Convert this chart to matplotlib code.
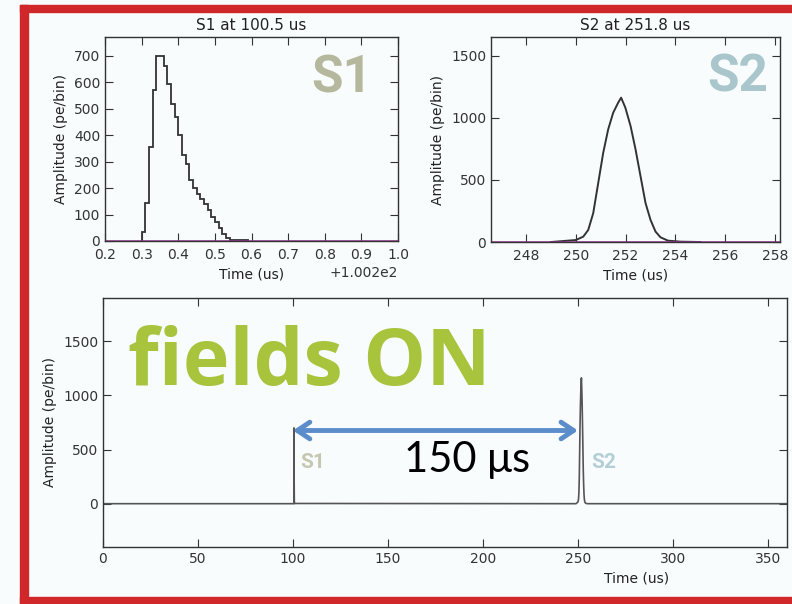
import numpy as np
import matplotlib.pyplot as plt
from matplotlib.patches import Rectangle
from matplotlib.ticker import ScalarFormatter, MultipleLocator

# S1 histogram: bin left edges (us) and amplitudes (pe/bin)
s1_edges = [100.50, 100.51, 100.52, 100.53, 100.54, 100.55, 100.56, 100.57,
            100.58, 100.59, 100.60, 100.61, 100.62, 100.63, 100.64, 100.65,
            100.66, 100.67, 100.68, 100.69, 100.70, 100.71, 100.72, 100.73,
            100.74, 100.75, 100.76, 100.77, 100.78, 100.79]
s1_amp = [34, 145, 354, 571, 700, 700, 660, 591, 518, 468, 401, 323, 289, 229,
          201, 178, 157, 138, 116, 90, 72, 49, 28, 13, 5, 3, 3, 3, 2]

# S2 waveform
s2_time = [249.0, 250.0, 250.3, 250.5, 250.7, 250.9, 251.1, 251.3, 251.5, 251.7,
           251.82, 251.99, 252.2, 252.4, 252.6, 252.8, 253.0, 253.2, 253.4,
           253.7, 254.2, 255.0]
s2_amp = [0, 16, 43, 97, 232, 474, 717, 906, 1040, 1121, 1162, 1081, 933, 744,
          528, 313, 178, 84, 38, 11, 3, 0]

# full event window
event_start = 0
event_end = 360

bg = '#f8fcfd'
plt.rcParams.update({
    'font.size': 10,
    'xtick.direction': 'in',
    'ytick.direction': 'in',
    'xtick.top': True,
    'ytick.right': True,
    'xtick.major.size': 6,
    'ytick.major.size': 6,
    'axes.edgecolor': '#333333',
    'axes.linewidth': 1.0,
    'xtick.color': '#333333',
    'ytick.color': '#333333',
    'text.color': '#222222',
    'axes.labelcolor': '#222222',
})

fig = plt.figure(figsize=(7.92, 6.04), dpi=100, facecolor=bg)

# --- top left: S1 zoom ---
ax1 = fig.add_axes([0.1326, 0.601, 0.370, 0.3377], facecolor=bg)
ax1.stairs(s1_amp, s1_edges, color='#333333', lw=1.3)
ax1.axhline(0, color='#a0309a', lw=1.8)
ax1.set_xlim(100.4, 101.2)
ax1.set_ylim(0, 770)
ax1.xaxis.set_major_locator(MultipleLocator(0.1))
ax1.xaxis.set_major_formatter(ScalarFormatter(useOffset=100.2))
ax1.yaxis.set_major_locator(MultipleLocator(100))
ax1.tick_params(axis='x', pad=5)
ax1.set_title('S1 at 100.5 us', fontsize=11, pad=5)
ax1.set_xlabel('Time (us)')
ax1.set_ylabel('Amplitude (pe/bin)')
ax1.text(0.911, 0.73, 'S1', transform=ax1.transAxes, ha='right', va='baseline',
         fontsize=37, fontweight='bold', family='Roboto', color='#b6b89e')

# --- top right: S2 zoom ---
ax2 = fig.add_axes([0.620, 0.5993, 0.365, 0.3394], facecolor=bg)
ax2.plot(s2_time, s2_amp, color='#333333', lw=1.4)
ax2.axhline(0, color='#a0309a', lw=1.8)
ax2.set_xlim(246.6, 258.2)
ax2.set_ylim(0, 1650)
ax2.xaxis.set_major_locator(MultipleLocator(2))
ax2.yaxis.set_major_locator(MultipleLocator(500))
ax2.tick_params(axis='x', pad=5)
ax2.set_title('S2 at 251.8 us', fontsize=11, pad=5)
ax2.set_xlabel('Time (us)')
ax2.set_ylabel('Amplitude (pe/bin)')
ax2.text(0.958, 0.732, 'S2', transform=ax2.transAxes, ha='right', va='baseline',
         fontsize=37, fontweight='bold', family='Roboto', color='#a9c6cc')

# --- bottom: whole event ---
ax3 = fig.add_axes([0.130, 0.0944, 0.8636, 0.4122], facecolor=bg)
trace_t = np.concatenate([[event_start, s1_edges[0] - 0.01], s1_edges[:-1], s2_time, [event_end]])
trace_a = np.concatenate([[0, 0], s1_amp, s2_amp, [0]])
ax3.plot(trace_t, trace_a, color='#555555', lw=1.2)
ax3.set_xlim(event_start, event_end)
ax3.set_ylim(-400, 1900)
ax3.xaxis.set_major_locator(MultipleLocator(50))
ax3.yaxis.set_major_locator(MultipleLocator(500))
ax3.set_xlabel('Time (us)')
ax3.xaxis.set_label_coords(0.78, -0.1)
ax3.set_ylabel('Amplitude (pe/bin)')

ax3.text(13, 1093, 'fields ON', ha='left', va='baseline', fontsize=57,
         fontweight='bold', family='Open Sans', color='#a8c43c')
ax3.annotate('', xy=(100, 676), xytext=(250, 676),
             arrowprops=dict(arrowstyle='<->,head_length=0.9,head_width=0.6',
                             lw=3.5, color='#5b8dca', shrinkA=0, shrinkB=0))
ax3.text(191.6, 290, '150 μs', ha='center', va='baseline', fontsize=30,
         family='Lato', color='black')
ax3.text(103.7, 333, 'S1', ha='left', va='baseline', fontsize=15,
         fontweight='bold', family='Roboto', color='#c6c7b0')
ax3.text(256.8, 333, 'S2', ha='left', va='baseline', fontsize=15,
         fontweight='bold', family='Roboto', color='#b3cfd5')

# red frame
red = '#d0282a'
fig.add_artist(Rectangle((20 / 792, 0), 8 / 792, 599 / 604, transform=fig.transFigure,
                         color=red, zorder=10))
fig.add_artist(Rectangle((20 / 792, 1 - 12 / 604), 772 / 792, 7 / 604,
                         transform=fig.transFigure, color=red, zorder=10))
fig.add_artist(Rectangle((20 / 792, 1 / 604), 772 / 792, 6 / 604,
                         transform=fig.transFigure, color=red, zorder=10))

fig.savefig('out.png', dpi=100, facecolor=bg)
